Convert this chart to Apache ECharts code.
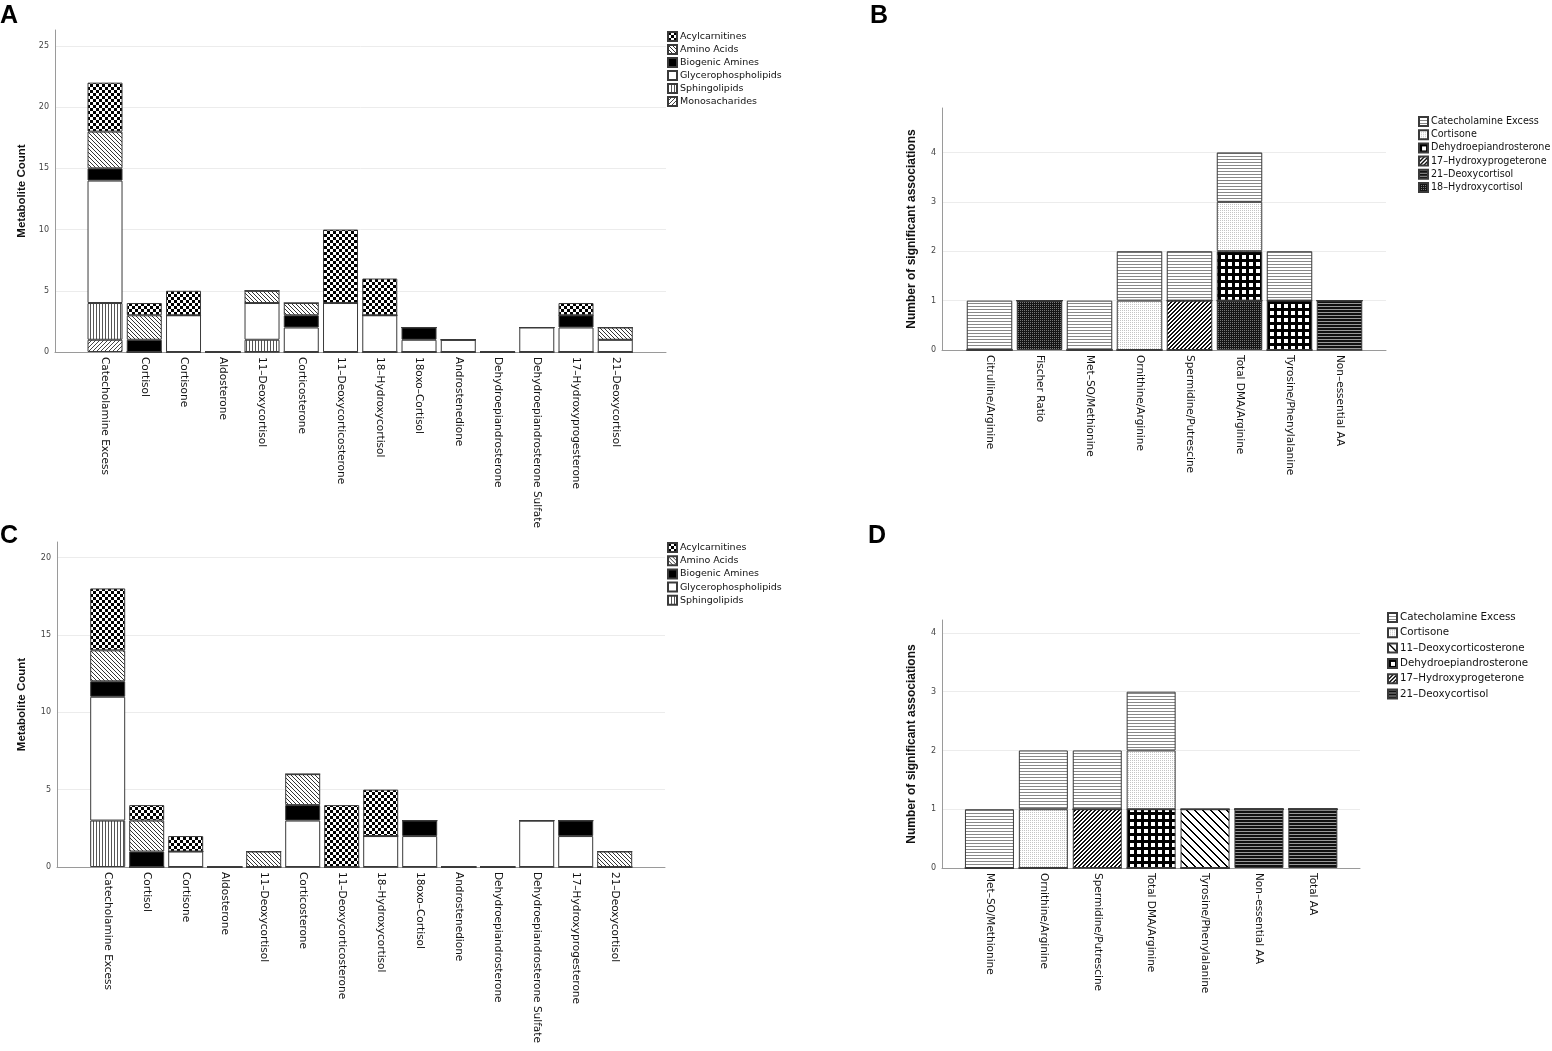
<!DOCTYPE html>
<html>
<head>
<meta charset="utf-8">
<script src="https://cdn.jsdelivr.net/npm/echarts@6/dist/echarts.min.js"></script>
<style>
  html, body { margin: 0; padding: 0; background: #fff; }
  #chart { width: 1552px; height: 1051px; }
</style>
</head>
<body>
<div id="chart"></div>
<script>
// ---- data ----
let steroidCats = ['Catecholamine Excess', 'Cortisol', 'Cortisone', 'Aldosterone', '11–Deoxycortisol',
    'Corticosterone', '11–Deoxycorticosterone', '18–Hydroxycortisol', '18oxo–Cortisol', 'Androstenedione',
    'Dehydroepiandrosterone', 'Dehydroepiandrosterone Sulfate', '17–Hydroxyprogesterone', '21–Deoxycortisol'];

// panel A, stacked bottom -> top
let aMonosacharides = [1, 0, 0, 0, 0, 0, 0, 0, 0, 0, 0, 0, 0, 0];
let aSphingolipids  = [3, 0, 0, 0, 1, 0, 0, 0, 0, 0, 0, 0, 0, 0];
let aGlycero        = [10, 0, 3, 0, 3, 2, 4, 3, 1, 1, 0, 2, 2, 1];
let aBiogenic       = [1, 1, 0, 0, 0, 1, 0, 0, 1, 0, 0, 0, 1, 0];
let aAmino          = [3, 2, 0, 0, 1, 1, 0, 0, 0, 0, 0, 0, 0, 1];
let aAcyl           = [4, 1, 2, 0, 0, 0, 6, 3, 0, 0, 0, 0, 1, 0];

// panel C
let cSphingolipids  = [3, 0, 0, 0, 0, 0, 0, 0, 0, 0, 0, 0, 0, 0];
let cGlycero        = [8, 0, 1, 0, 0, 3, 0, 2, 2, 0, 0, 3, 2, 0];
let cBiogenic       = [1, 1, 0, 0, 0, 1, 0, 0, 1, 0, 0, 0, 1, 0];
let cAmino          = [2, 2, 0, 0, 1, 2, 0, 0, 0, 0, 0, 0, 0, 1];
let cAcyl           = [4, 1, 1, 0, 0, 0, 4, 3, 0, 0, 0, 0, 0, 0];

// panel B
let bCats = ['Citrulline/Arginine', 'Fischer Ratio', 'Met–SO/Methionine', 'Ornithine/Arginine',
    'Spermidine/Putrescine', 'Total DMA/Arginine', 'Tyrosine/Phenylalanine', 'Non–essential AA'];
let b18OH      = [0, 1, 0, 0, 0, 1, 0, 0];
let b21Deoxy   = [0, 0, 0, 0, 0, 0, 0, 1];
let b17OHP     = [0, 0, 0, 0, 1, 0, 0, 0];
let bDHEA      = [0, 0, 0, 0, 0, 1, 1, 0];
let bCortisone = [0, 0, 0, 1, 0, 1, 0, 0];
let bCatechol  = [1, 0, 1, 1, 1, 1, 1, 0];

// panel D
let dCats = ['Met–SO/Methionine', 'Ornithine/Arginine', 'Spermidine/Putrescine', 'Total DMA/Arginine',
    'Tyrosine/Phenylalanine', 'Non–essential AA', 'Total AA'];
let d21Deoxy   = [0, 0, 0, 0, 0, 1, 1];
let d17OHP     = [0, 0, 1, 0, 0, 0, 0];
let dDHEA      = [0, 0, 0, 1, 0, 0, 0];
let d11DOC     = [0, 0, 0, 0, 1, 0, 0];
let dCortisone = [0, 1, 0, 1, 0, 0, 0];
let dCatechol  = [1, 1, 1, 1, 0, 0, 0];

// ---- fill patterns ----
function pattern(w, h, draw) {
    let c = document.createElement('canvas');
    c.width = w; c.height = h;
    let g = c.getContext('2d');
    draw(g);
    return { image: c, repeat: 'repeat' };
}
function px(g, col, pts) {
    g.fillStyle = col;
    pts.forEach(p => g.fillRect(p[0], p[1], 1, 1));
}

let fills = {
    'Acylcarnitines': pattern(6, 6, g => {
        g.fillStyle = '#fff'; g.fillRect(0, 0, 6, 6);
        g.fillStyle = '#000'; g.fillRect(0, 0, 3, 3); g.fillRect(3, 3, 3, 3);
    }),
    'Amino Acids': pattern(4, 4, g => {
        g.fillStyle = '#fff'; g.fillRect(0, 0, 4, 4);
        px(g, '#333', [[0, 0], [1, 1], [2, 2], [3, 3]]);
    }),
    'Biogenic Amines': '#000',
    'Glycerophospholipids': '#fff',
    'Sphingolipids': pattern(3, 1, g => {
        g.fillStyle = '#fff'; g.fillRect(0, 0, 3, 1);
        px(g, '#555', [[0, 0]]);
    }),
    'Monosacharides': pattern(4, 4, g => {
        g.fillStyle = '#fff'; g.fillRect(0, 0, 4, 4);
        px(g, '#444', [[3, 0], [2, 1], [1, 2], [0, 3]]);
    }),
    'Catecholamine Excess': pattern(1, 3, g => {
        g.fillStyle = '#fff'; g.fillRect(0, 0, 1, 3);
        px(g, '#888', [[0, 0]]);
    }),
    'Cortisone': pattern(2, 2, g => {
        g.fillStyle = '#fff'; g.fillRect(0, 0, 2, 2);
        px(g, '#c4c4c4', [[0, 0]]);
    }),
    'Dehydroepiandrosterone': pattern(7, 7, g => {
        g.fillStyle = '#000'; g.fillRect(0, 0, 7, 7);
        g.fillStyle = '#fff'; g.fillRect(3, 3, 4, 4);
    }),
    '17–Hydroxyprogeterone': pattern(4, 4, g => {
        g.fillStyle = '#fff'; g.fillRect(0, 0, 4, 4);
        for (let x = 0; x < 4; x++) for (let y = 0; y < 4; y++) {
            if ((x + y) % 4 < 2) px(g, '#111', [[x, y]]);
        }
    }),
    '21–Deoxycortisol': pattern(1, 3, g => {
        g.fillStyle = '#111'; g.fillRect(0, 0, 1, 3);
        px(g, '#999', [[0, 0]]);
    }),
    '18–Hydroxycortisol': pattern(2, 2, g => {
        g.fillStyle = '#151515'; g.fillRect(0, 0, 2, 2);
        px(g, '#777', [[0, 0]]);
    }),
    '11–Deoxycorticosterone': pattern(8, 8, g => {
        g.fillStyle = '#fff'; g.fillRect(0, 0, 8, 8);
        for (let x = 0; x < 8; x++) for (let y = 0; y < 8; y++) {
            if (((x - y) % 8 + 8) % 8 < 2) px(g, '#000', [[x, y]]);
        }
    })
};

// ---- panels ----
let panels = [
    {
        letter: 'A', letterPos: [0, 4],
        frame: { left: 55, top: 30, width: 611, height: 322 },
        bars: { left: 85.4, width: 549.5 }, barWidth: 35,
        yMax: 26.3, yStep: 5, yName: 'Metabolite Count', nameSize: 11.5, nameGap: 27,
        cats: steroidCats, catSize: 10.5,
        series: [
            ['Monosacharides', aMonosacharides], ['Sphingolipids', aSphingolipids],
            ['Glycerophospholipids', aGlycero], ['Biogenic Amines', aBiogenic],
            ['Amino Acids', aAmino], ['Acylcarnitines', aAcyl]
        ],
        legend: { left: 667, top: 31, gap: 2, size: 9.5 }
    },
    {
        letter: 'B', letterPos: [870, 4],
        frame: { left: 942, top: 108, width: 444, height: 242 },
        bars: { left: 964.5, width: 400 }, barWidth: 45.5,
        yMax: 4.9, yStep: 1, yName: 'Number of significant associations', nameSize: 12, nameGap: 24,
        cats: bCats, catSize: 10.5,
        series: [
            ['18–Hydroxycortisol', b18OH], ['21–Deoxycortisol', b21Deoxy],
            ['17–Hydroxyprogeterone', b17OHP], ['Dehydroepiandrosterone', bDHEA],
            ['Cortisone', bCortisone], ['Catecholamine Excess', bCatechol]
        ],
        legend: { left: 1418, top: 116, gap: 2.2, size: 9.6 }
    },
    {
        letter: 'C', letterPos: [0, 524],
        frame: { left: 57, top: 542, width: 608, height: 325 },
        bars: { left: 88.2, width: 546 }, barWidth: 35,
        yMax: 21, yStep: 5, yName: 'Metabolite Count', nameSize: 11.5, nameGap: 29,
        cats: steroidCats, catSize: 10.5,
        series: [
            ['Sphingolipids', cSphingolipids], ['Glycerophospholipids', cGlycero],
            ['Biogenic Amines', cBiogenic], ['Amino Acids', cAmino], ['Acylcarnitines', cAcyl]
        ],
        legend: { left: 667, top: 542, gap: 2.2, size: 9.5 }
    },
    {
        letter: 'D', letterPos: [868, 524],
        frame: { left: 942, top: 620, width: 418, height: 248 },
        bars: { left: 962.5, width: 377.3 }, barWidth: 49,
        yMax: 4.22, yStep: 1, yName: 'Number of significant associations', nameSize: 12, nameGap: 24,
        cats: dCats, catSize: 10.5,
        series: [
            ['21–Deoxycortisol', d21Deoxy], ['17–Hydroxyprogeterone', d17OHP],
            ['Dehydroepiandrosterone', dDHEA], ['11–Deoxycorticosterone', d11DOC],
            ['Cortisone', dCortisone], ['Catecholamine Excess', dCatechol]
        ],
        legend: { left: 1387, top: 612, gap: 4.3, size: 10.3 }
    }
];

let option = {
    backgroundColor: '#fff',
    animation: false,
    textStyle: { fontFamily: 'DejaVu Sans' },
    title: [], grid: [], xAxis: [], yAxis: [], legend: [], series: []
};

panels.forEach((p, i) => {
    let g0 = i * 2, g1 = i * 2 + 1;
    let fr = p.frame;

    option.title.push({
        text: p.letter, left: p.letterPos[0], top: p.letterPos[1], padding: 0,
        textStyle: { fontFamily: 'Liberation Sans', fontWeight: 'bold', fontSize: 25, color: '#000' }
    });

    // backdrop grid: axis lines + gridlines over the full frame
    option.grid.push({ left: fr.left, top: fr.top, width: fr.width, height: fr.height });
    // bar grid: the category band
    option.grid.push({ left: p.bars.left, top: fr.top, width: p.bars.width, height: fr.height });

    option.xAxis.push({
        type: 'value', gridIndex: g0, min: 0, max: 1,
        axisLine: { show: true, lineStyle: { color: '#9a9a9a', width: 1 } },
        axisTick: { show: false }, axisLabel: { show: false }, splitLine: { show: false }
    });
    option.yAxis.push({
        type: 'value', gridIndex: g0, min: 0, max: p.yMax, interval: p.yStep,
        axisLine: { show: true, lineStyle: { color: '#9a9a9a', width: 1 } },
        axisTick: { show: false },
        axisLabel: {
            fontSize: 8, color: '#444', margin: 6,
            formatter: v => (Math.abs(v / p.yStep - Math.round(v / p.yStep)) < 1e-6 ? String(v) : '')
        },
        splitLine: { show: true, showMinLine: false, showMaxLine: false, lineStyle: { color: '#ececec', width: 1 } },
        name: p.yName, nameLocation: 'middle', nameRotate: 90, nameGap: p.nameGap,
        nameTextStyle: { fontFamily: 'Liberation Sans', fontWeight: 'bold', fontSize: p.nameSize, color: '#111' }
    });

    option.xAxis.push({
        type: 'category', gridIndex: g1, data: p.cats,
        axisLine: { show: false }, axisTick: { show: false }, splitLine: { show: false },
        axisLabel: { interval: 0, rotate: -90, margin: 5, fontSize: p.catSize, color: '#111' }
    });
    option.yAxis.push({
        type: 'value', gridIndex: g1, min: 0, max: p.yMax, show: false, splitLine: { show: false }
    });

    p.series.forEach(s => {
        option.series.push({
            type: 'bar', name: s[0], data: s[1], stack: 'panel' + i,
            xAxisIndex: g1, yAxisIndex: g1, barWidth: p.barWidth,
            itemStyle: { color: fills[s[0]], borderColor: '#3a3a3a', borderWidth: 1 },
            emphasis: { disabled: true }, silent: true
        });
    });

    option.legend.push({
        orient: 'vertical', left: p.legend.left, top: p.legend.top, padding: 0,
        itemWidth: 9, itemHeight: 9, itemGap: p.legend.gap, icon: 'rect',
        selectedMode: false,
        textStyle: { fontSize: p.legend.size, color: '#111', fontFamily: 'DejaVu Sans', padding: [0, 0, 0, -2] },
        data: p.series.map(s => s[0]).reverse()
    });
});

let chart = echarts.init(document.getElementById('chart'));
chart.setOption(option);
</script>
</body>
</html>
